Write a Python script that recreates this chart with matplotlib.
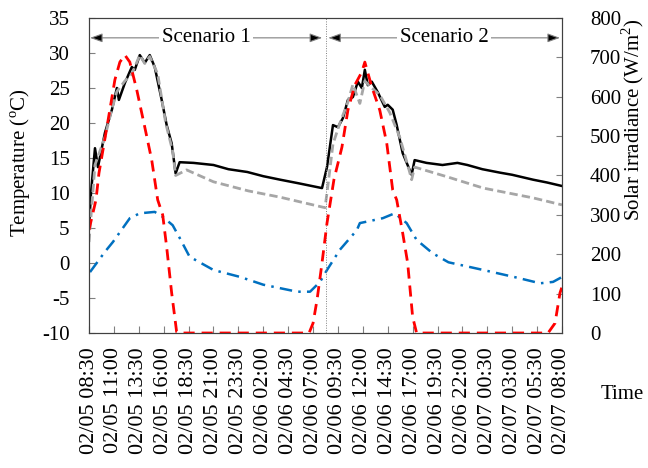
"""Two-scenario temperature and solar irradiance time series."""

import matplotlib
matplotlib.use("Agg")
import matplotlib.pyplot as plt
from matplotlib import transforms

# hours after 02/05 08:30
tick_labels = [
    "02/05 08:30", "02/05 11:00", "02/05 13:30", "02/05 16:00", "02/05 18:30",
    "02/05 21:00", "02/05 23:30", "02/06 02:00", "02/06 04:30", "02/06 07:00",
    "02/06 09:30", "02/06 12:00", "02/06 14:30", "02/06 17:00", "02/06 19:30",
    "02/06 22:00", "02/07 00:30", "02/07 03:00", "02/07 05:30", "02/07 08:00",
]

black_t = [0.0, 0.2, 0.6, 0.9, 1.6, 2.3, 2.8, 3.0, 3.6, 4.3, 4.6, 5.1, 5.6, 6.1,
           6.6, 7.3, 7.8, 8.3, 8.7, 9.1, 10.5, 12.5, 14.0, 15.9, 17.5, 19.2, 21.0,
           23.4, 23.9, 24.5, 25.0, 25.5, 26.0, 26.5, 27.0, 27.4, 27.7, 28.0, 28.4,
           29.0, 29.7, 30.0, 30.5, 30.9, 31.5, 32.4, 32.7, 33.9, 35.5, 37.0, 38.0,
           39.5, 41.3, 42.5, 44.6, 46.0, 47.5]
black_v = [5.0, 10.0, 16.4, 13.7, 18.6, 21.9, 25.0, 23.3, 25.7, 28.0, 27.6, 29.7,
           28.6, 29.7, 28.0, 23.3, 19.7, 17.1, 12.8, 14.4, 14.3, 14.0, 13.4, 13.0,
           12.4, 11.9, 11.4, 10.7, 13.7, 19.7, 19.4, 20.7, 23.3, 23.7, 25.9, 25.0,
           27.6, 25.4, 25.9, 24.4, 22.3, 22.6, 21.9, 19.7, 15.7, 12.6, 14.7, 14.3,
           14.0, 14.3, 14.0, 13.4, 12.9, 12.6, 11.9, 11.5, 11.0]

gray_t = [0.0, 0.6, 1.6, 2.3, 2.8, 3.6, 4.3, 5.1, 5.6, 6.1, 6.9, 7.7, 8.4, 8.7,
          9.8, 12.5, 16.0, 19.2, 23.7, 23.9, 24.5, 25.2, 26.0, 26.5, 27.2, 27.7,
          28.4, 29.2, 30.2, 31.2, 32.2, 32.4, 32.7, 36.0, 39.6, 44.6, 47.5]
gray_v = [3.0, 14.0, 18.0, 22.0, 24.5, 26.0, 27.0, 29.7, 28.5, 29.5, 27.0, 20.0,
          16.0, 12.5, 13.3, 11.6, 10.3, 9.4, 7.9, 10.0, 17.0, 20.0, 23.0, 25.5,
          22.8, 26.0, 25.0, 24.0, 21.5, 18.0, 13.0, 11.9, 13.7, 12.3, 10.7, 9.3,
          8.3]

blue_t = [0.1, 1.6, 2.4, 4.1, 5.1, 6.6, 7.4, 8.4, 9.1, 10.1, 12.5, 15.2, 17.5,
          20.9, 22.2, 23.2, 23.9, 25.2, 26.9, 27.2, 28.2, 29.5, 30.7, 31.9, 32.9,
          34.5, 36.1, 39.6, 43.0, 45.3, 46.6, 47.5]
blue_v = [-1.3, 1.6, 3.0, 6.4, 7.1, 7.3, 6.6, 5.4, 3.6, 0.9, -1.0, -2.0, -3.1,
          -4.1, -4.1, -2.7, -1.0, 1.9, 4.7, 5.7, 6.0, 6.4, 7.1, 5.7, 3.3, 1.4,
          0.1, -1.0, -2.1, -2.9, -2.7, -2.0]

solar_t = [0.0, 0.7, 1.0, 1.8, 2.6, 3.1, 3.6, 4.1, 4.8, 5.6, 6.3, 6.9, 7.4, 7.8,
           8.3, 8.8, 9.1, 22.1, 22.5, 22.9, 23.4, 23.9, 24.6, 25.4, 26.0, 26.7,
           27.4, 27.7, 28.4, 29.2, 29.9, 30.5, 30.9, 31.5, 32.0, 32.5, 32.9, 46.1,
           46.8, 47.3, 47.5]
solar_v = [262, 338, 406, 523, 643, 688, 706, 688, 617, 523, 439, 338, 300, 218,
           102, 3, 0, 0, 25, 84, 178, 279, 390, 472, 566, 630, 663, 688, 625, 566,
           482, 363, 338, 254, 178, 41, 0, 0, 25, 102, 117]

scenario_split = 23.77
scenario_names = ["Scenario 1", "Scenario 2"]

plt.rcParams.update({
    "font.family": "Liberation Serif",
    "font.size": 15,
    "mathtext.fontset": "custom",
    "mathtext.rm": "Liberation Serif",
    "axes.edgecolor": "#404040",
    "axes.unicode_minus": False,
})

fig = plt.figure(figsize=(6.48, 4.68), dpi=100)
ax = fig.add_axes([89 / 648, 1 - 333 / 468, 473 / 648, 315 / 468])
ax2 = ax.twinx()

ax.plot(black_t, black_v, color="black", lw=1.8)
ax.plot(gray_t, gray_v, color="#A6A6A6", lw=2.0, ls=(0, (3, 1.5)))
ax.plot(blue_t, blue_v, color="#0070C0", lw=1.8, ls=(0, (5, 2.5, 1, 2.5)))
ax2.plot(solar_t, solar_v, color="#FF0000", lw=2.0, ls=(0, (4, 2.5)))

ax.axvline(scenario_split, color="#808080", lw=0.7, ls=(0, (1, 1.5)))

ax.set_xlim(0, 47.5)
ax.set_ylim(-10, 35)
ax.set_yticks(range(-10, 36, 5))
ax2.set_ylim(0, 800)
ax2.set_yticks(range(0, 801, 100))
ax.set_xticks([2.5 * i for i in range(len(tick_labels))])
ax.set_xticklabels(tick_labels, rotation=90, fontsize=16)

ax.tick_params(axis="x", direction="in", length=5, pad=10, color="#808080")
ax.tick_params(axis="y", direction="in", length=4, pad=14, color="#808080")
ax2.tick_params(axis="y", direction="in", length=4, pad=20, color="#808080")

ax.set_ylabel(r"Temperature ($^{\mathrm{o}}$C)")
ax.yaxis.set_label_coords(-0.118, 0.54)
ax2.set_ylabel(r"Solar irradiance (W/m$^{2}$)")
ax2.yaxis.set_label_coords(1.122, 0.676)
fig.text(0.96, 0.156, "Time", ha="center", va="center")

trans = transforms.blended_transform_factory(ax.transData, ax.transAxes)
spans = [(0.1, scenario_split - 0.35), (scenario_split + 0.25, 47.3)]
for (x0, x1), name in zip(spans, scenario_names):
    ax.annotate(
        "", xy=(x0, 0.937), xytext=(x1, 0.937), xycoords=trans, textcoords=trans,
        arrowprops=dict(arrowstyle="<|-|>,head_length=0.5,head_width=0.18",
                        ec="#808080", fc="black", lw=0.8, shrinkA=0, shrinkB=0),
    )
    ax.text((x0 + x1) / 2, 0.937, name, transform=trans, ha="center", va="center",
            bbox=dict(facecolor="white", edgecolor="none", pad=2))

fig.savefig("out.png", dpi=100)
